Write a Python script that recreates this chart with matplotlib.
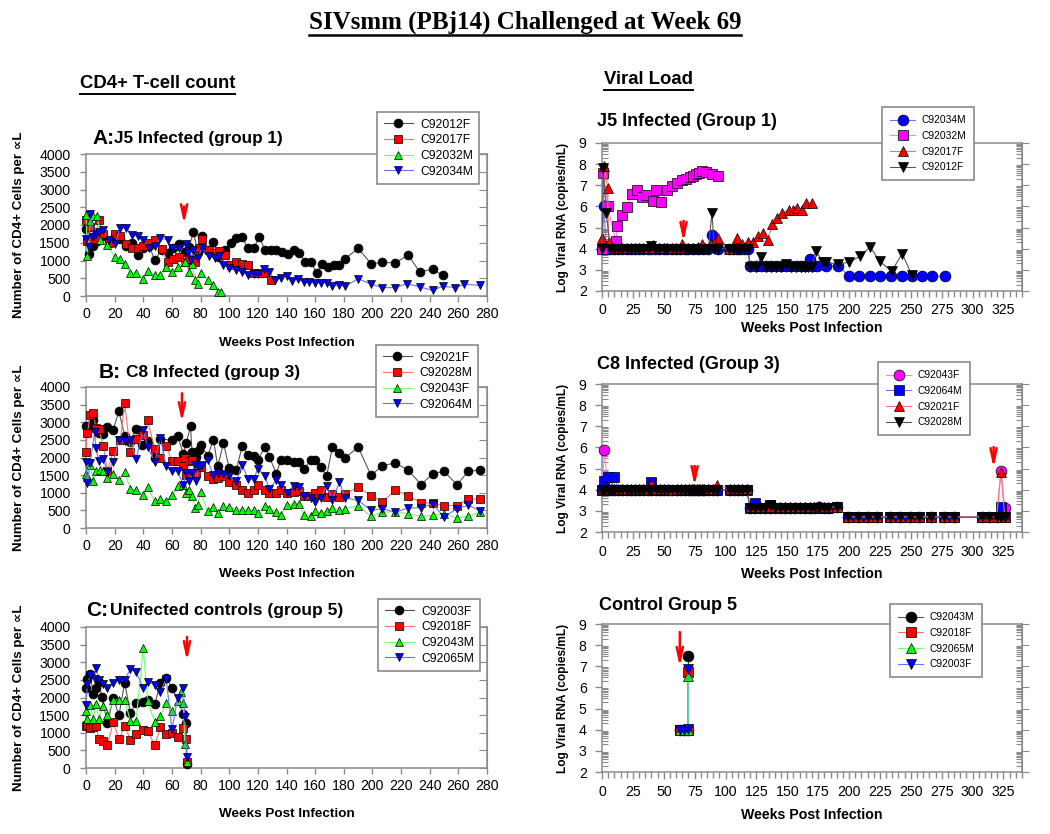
import matplotlib
matplotlib.use("Agg")
import matplotlib.pyplot as plt
from matplotlib.lines import Line2D

plt.rcParams["font.family"] = ["Liberation Sans", "DejaVu Sans"]

# ---------------- CD4+ T-cell counts (left column) ----------------
A_LABELS = ["C92012F", "C92017F", "C92032M", "C92034M"]
A_WK_12F = [0, 2, 5, 8, 12, 16, 20, 24, 28, 32, 36, 40, 44, 48, 53, 57, 61, 65, 69, 72,
            75, 78, 81, 85, 89, 93, 97, 101, 105, 109, 113, 117, 121, 125, 129, 133, 137, 141, 145, 149,
            153, 157, 161, 165, 169, 173, 177, 181, 190, 199, 207, 216, 225, 233, 242, 249]
A_C92012F = [1880, 1180, 1420, 1550, 1700, 1500, 1680, 1600, 1420, 1480, 1150, 1350, 1420, 1010, 1300, 1200, 1350, 1470, 1250, 1380,
             1800, 1250, 1680, 1300, 1510, 1090, 1290, 1480, 1620, 1670, 1340, 1340, 1670, 1290, 1290, 1290, 1245, 1180, 1290, 1225,
             960, 960, 650, 915, 820, 885, 870, 1055, 1340, 915, 945, 935, 1150, 680, 755, 585]
A_WK_17F = [0, 1, 3, 6, 9, 12, 16, 20, 24, 28, 32, 36, 40, 44, 48, 53, 57, 61, 65, 69,
            72, 76, 79, 81, 86, 90, 93, 97, 101, 105, 109, 113, 117, 121, 125, 129]
A_C92017F = [2150, 1550, 1940, 1600, 2150, 1750, 1500, 1745, 1700, 1460, 1350, 1350, 1395, 1490, 1580, 1320, 965, 1040, 1110, 965,
             1030, 965, 1350, 1610, 1300, 1200, 1270, 1160, 870, 960, 915, 870, 650, 660, 660, 445]
A_WK_32M = [0, 1, 3, 5, 8, 10, 15, 20, 24, 27, 31, 35, 40, 43, 48, 52, 56, 60, 64, 69,
            72, 74, 76, 78, 80, 85, 89, 92, 94]
A_C92032M = [2290, 1120, 2100, 2250, 2260, 1570, 1430, 1100, 1030, 915, 650, 660, 490, 700, 600, 585, 820, 680, 820, 960,
             680, 915, 460, 350, 660, 460, 320, 110, 110]
A_WK_34M = [0, 2, 3, 5, 7, 9, 12, 16, 20, 24, 28, 32, 36, 40, 44, 48, 52, 57, 60, 65,
            70, 71, 73, 75, 78, 81, 86, 90, 93, 96, 100, 105, 109, 113, 117, 120, 124, 128, 132, 136,
            140, 144, 148, 152, 156, 160, 164, 168, 172, 177, 181, 190, 199, 207, 216, 224, 233, 242, 249, 258,
            264, 275]
A_C92034M = [1600, 1390, 2320, 1660, 1750, 1810, 1850, 1580, 1470, 1915, 1915, 1725, 1680, 1580, 1360, 1410, 1630, 1580, 1350, 1350,
             1470, 1200, 1015, 1300, 1060, 1350, 1140, 1060, 1130, 870, 800, 726, 679, 585, 613, 613, 773, 679, 443, 509,
             556, 424, 490, 396, 396, 377, 377, 377, 273, 320, 273, 490, 330, 236, 236, 349, 255, 160, 273, 236,
             330, 300]

B_LABELS = ["C92021F", "C92028M", "C92043F", "C92064M"]
B_WK_21F = [0, 3, 5, 9, 12, 15, 19, 23, 27, 31, 35, 39, 43, 48, 52, 60, 64, 68, 70, 73,
            74, 77, 79, 80, 85, 89, 92, 96, 100, 105, 109, 113, 117, 120, 125, 128, 133, 136, 140, 145,
            149, 152, 157, 160, 164, 168, 172, 177, 181, 190, 199, 207, 216, 225, 234, 242, 250, 259, 267, 275]
B_C92021F = [2885, 2885, 3070, 2700, 2676, 2865, 2790, 3310, 2620, 2430, 2810, 2365, 2480, 1985, 2535, 2485, 2600, 2110, 2410, 2885,
             2155, 2015, 2205, 2365, 2050, 2505, 1750, 2410, 1700, 1655, 2315, 2080, 2035, 1940, 2300, 2015, 1540, 1940, 1940, 1860,
             1860, 1675, 1920, 1940, 1730, 1465, 2300, 2130, 1985, 2300, 1495, 1770, 1845, 1640, 1230, 1540, 1610, 1230, 1610, 1640]
B_WK_28M = [0, 1, 3, 5, 7, 9, 12, 15, 19, 24, 27, 31, 35, 40, 43, 48, 52, 56, 60, 64,
            68, 69, 70, 72, 74, 77, 80, 85, 89, 92, 96, 100, 105, 109, 113, 117, 120, 125, 128, 133,
            136, 140, 145, 149, 152, 157, 160, 164, 168, 172, 177, 181, 190, 199, 207, 216, 225, 234, 242, 250,
            259, 267, 275]
B_C92028M = [2155, 2695, 3215, 3260, 2830, 2810, 2335, 1610, 2175, 2500, 3545, 2150, 2530, 2650, 3050, 2240, 1985, 2330, 1890, 1890,
             1750, 1985, 1500, 1890, 1920, 1560, 1720, 1465, 1390, 1420, 1465, 1305, 1230, 1090, 990, 1070, 1230, 1070, 990, 990,
             1090, 990, 1020, 1040, 900, 900, 990, 1090, 880, 975, 880, 975, 1160, 915, 740, 1070, 915, 710, 710, 635,
             635, 830, 820]
B_WK_43F = [0, 1, 3, 5, 7, 10, 12, 15, 19, 23, 27, 31, 35, 40, 43, 48, 52, 56, 60, 64,
            68, 70, 72, 74, 76, 78, 80, 85, 89, 92, 96, 100, 105, 109, 113, 117, 120, 125, 128, 133,
            136, 140, 145, 149, 152, 157, 160, 164, 168, 172, 177, 181, 190, 199, 207, 216, 225, 234, 242, 250,
            259, 267, 275]
B_C92043F = [1540, 1450, 1790, 1320, 1610, 1640, 1610, 1420, 1540, 1370, 1580, 1105, 1070, 945, 1150, 755, 830, 755, 925, 1180,
             1230, 990, 1090, 915, 570, 660, 1010, 470, 600, 425, 615, 600, 520, 520, 520, 500, 425, 635, 550, 445,
             380, 645, 690, 690, 380, 350, 490, 425, 490, 570, 520, 550, 635, 330, 455, 455, 405, 330, 360, 400,
             285, 330, 455]
B_WK_64M = [0, 1, 3, 6, 7, 9, 12, 15, 19, 23, 27, 31, 35, 40, 43, 48, 52, 56, 60, 64,
            68, 70, 72, 74, 76, 77, 79, 81, 85, 89, 92, 96, 100, 105, 109, 113, 117, 120, 125, 128,
            133, 136, 140, 145, 149, 152, 157, 160, 164, 168, 172, 177, 181, 190, 199, 207, 216, 225, 234, 242,
            250, 259, 267, 275]
B_C92064M = [1865, 1275, 1845, 2715, 2270, 1890, 1960, 1580, 1865, 2505, 2460, 2505, 1960, 2790, 2300, 1865, 2555, 1750, 1610, 1610,
             1230, 1560, 1320, 1560, 1800, 1320, 1730, 1800, 1920, 1495, 1560, 1540, 1465, 1320, 1800, 1390, 1390, 1675, 1485, 1105,
             1370, 1230, 990, 1200, 1160, 900, 850, 730, 850, 1200, 805, 1295, 850, 785, 500, 550, 445, 570, 570, 690,
             310, 550, 645, 490]

C_LABELS = ["C92003F", "C92018F", "C92043M", "C92065M"]
C_WK_03F = [0, 1, 3, 5, 7, 9, 11, 15, 19, 23, 27, 31, 35, 40, 43, 48, 52, 56, 60, 68, 70, 70.5]
C_C92003F = [2270, 2535, 2655, 2090, 2280, 2450, 2015, 1275, 1985, 1495, 2420, 1560, 1855, 1870, 1940, 1805, 2420, 2560, 2280, 1540, 1275, 105]
C_WK_18F = [0, 1, 3, 5, 7, 9, 12, 15, 19, 23, 27, 31, 35, 40, 43, 48, 52, 56, 60, 64, 68, 70, 70.5]
C_C92018F = [1190, 1230, 1135, 1165, 1190, 830, 775, 645, 1305, 815, 1190, 805, 955, 1090, 1050, 645, 1165, 975, 1000, 880, 1135, 815, 170]
C_WK_43M = [0, 1, 3, 5, 7, 9, 12, 15, 19, 23, 27, 31, 35, 40, 43, 48, 52, 56, 60, 64, 66, 68, 69, 70.5]
C_C92043M = [1610, 1400, 1795, 1400, 1825, 1380, 1760, 1515, 1920, 1940, 1920, 1335, 1335, 3415, 1890, 1305, 1475, 1845, 1615, 1890, 2150, 1845, 670, 170]
C_WK_65M = [0, 1, 3, 6, 7, 9, 12, 15, 19, 23, 27, 31, 35, 40, 43, 48, 52, 56, 60, 64, 68, 69, 70.5]
C_C92065M = [1795, 2375, 2630, 2535, 2845, 2505, 2390, 2270, 2410, 2485, 2505, 2800, 2725, 2270, 2440, 2365, 2155, 2535, 1095, 1985, 2270, 1445, 310]

# ---------------- Viral load (right column) ----------------
J5_LABELS = ["C92034M", "C92032M", "C92017F", "C92012F"]
J5_WK_34M = [0, 1.5, 3.5, 6.8, 9.8, 13, 16, 20, 23.4, 26.6, 30, 33.4, 37, 40, 43, 46, 50, 53, 57, 60,
             63, 67, 70, 73.5, 77.7, 81.8, 86, 89, 94, 103, 106, 109, 112, 115, 118, 120, 124.5, 128.5, 132.6, 136.7,
             140.8, 144.8, 149, 153, 157, 161, 164, 168.5, 170, 174, 181, 191, 200, 208, 217, 225, 234, 243, 251, 259,
             267, 278]
J5_C92034M = [4.0, 6.0, 4.0, 4.0, 4.0, 4.0, 4.0, 4.0, 4.0, 4.0, 4.0, 4.0, 4.0, 4.0, 4.0, 4.0, 4.0, 4.0, 4.0, 4.0,
              4.0, 4.0, 4.0, 4.0, 4.0, 4.0, 4.0, 4.64, 4.0, 4.0, 4.0, 4.0, 4.0, 4.0, 4.0, 3.2, 3.2, 3.2, 3.2, 3.2,
              3.2, 3.2, 3.2, 3.2, 3.2, 3.2, 3.2, 3.53, 3.2, 3.2, 3.2, 3.2, 2.7, 2.7, 2.7, 2.7, 2.7, 2.7, 2.7, 2.7,
              2.7, 2.7]
J5_WK_32M = [0, 1, 4.5, 11, 12.5, 16, 20, 24, 28.5, 32, 36, 41, 44, 48, 53, 57, 61, 64.5, 68, 71,
             73.5, 76, 78.5, 81, 84.5, 89, 94]
J5_C92032M = [4.0, 7.6, 6.03, 4.38, 5.08, 5.58, 5.97, 6.58, 6.77, 6.45, 6.52, 6.25, 6.8, 6.22, 6.8, 6.96, 7.11, 7.24, 7.3, 7.38,
              7.45, 7.52, 7.6, 7.66, 7.62, 7.52, 7.45]
J5_WK_17F = [0, 2, 4.5, 5.4, 9.8, 13, 16, 20, 23.4, 26.6, 30, 33.4, 37, 41, 43, 46, 50, 53, 57, 60,
             63, 65, 70, 73.5, 77.7, 81, 83.7, 88, 91, 94, 103, 109, 113, 118, 122, 126, 130, 134, 138, 142,
             146, 151, 155, 158, 162, 165, 170]
J5_C92017F = [4.52, 7.9, 6.88, 4.3, 4.05, 4.05, 4.05, 4.05, 4.05, 4.05, 4.05, 4.05, 4.05, 4.16, 4.05, 4.05, 4.05, 4.05, 4.05, 4.05,
              4.05, 4.2, 4.05, 4.05, 4.1, 4.24, 4.05, 4.2, 4.25, 4.5, 4.0, 4.5, 4.24, 4.3, 4.3, 4.58, 4.75, 4.42, 5.15, 5.45,
              5.7, 5.82, 5.84, 5.93, 5.85, 6.15, 6.17]
J5_WK_12F = [0, 1, 3.5, 6.8, 9.8, 13, 16, 20, 23.4, 26.6, 30, 33.4, 37, 40, 43, 46, 50, 53, 57, 60,
             63, 67, 70, 71.5, 73.5, 75.5, 77.7, 79.6, 81.8, 83.7, 86, 89, 91, 94, 103, 106, 109, 112, 115, 118,
             120, 124.5, 128.5, 132.6, 136.7, 140.8, 144.8, 149, 153, 157, 161, 164, 167, 170, 173, 179, 181, 191, 200, 209,
             217, 225, 234.5, 243, 251]
J5_C92012F = [4.0, 7.8, 5.67, 4.0, 4.0, 4.0, 4.0, 4.0, 4.0, 4.0, 4.0, 4.0, 4.0, 4.12, 4.0, 4.0, 4.0, 4.0, 4.0, 4.0,
              4.0, 4.0, 4.0, 4.0, 4.0, 4.0, 4.0, 4.0, 4.0, 4.0, 4.0, 5.67, 4.0, 4.0, 4.0, 4.0, 4.0, 4.0, 4.0, 4.0,
              3.15, 3.15, 3.6, 3.15, 3.15, 3.15, 3.15, 3.3, 3.15, 3.15, 3.15, 3.15, 3.15, 3.15, 3.9, 3.37, 3.37, 3.26, 3.37, 3.64,
              4.08, 3.4, 2.93, 3.77, 2.74]

C8_LABELS = ["C92043F", "C92064M", "C92021F", "C92028M"]
C8_WEEKS = [0, 2, 4.6, 7.3, 10, 13, 16.5, 20, 23.5, 26.7, 30, 33.5, 37, 40, 43.7, 47, 50.5, 53.7, 57, 60.5,
            64, 67, 70.7, 72.6, 74.8, 76.6, 78.8, 80.7, 82.8, 86, 89.6, 92.8, 103.6, 107, 110, 113, 117, 120, 124, 128,
            132, 136, 140, 144, 148, 152, 156, 160, 164, 168, 172, 176, 180, 183, 190, 199, 207, 215, 223, 233,
            241, 249, 257, 266, 277, 285, 308, 313, 319.5, 323, 326]
C8_C92043F = [4.0, 5.9, 4.0, 4.0, 4.0, 4.0, 4.0, 4.0, 4.0, 4.0, 4.0, 4.0, 4.0, 4.0, 4.0, 4.0, 4.0, 4.0, 4.0, 4.0,
              4.0, 4.0, 4.0, 4.0, 4.0, 4.0, 4.0, 4.0, 4.0, 4.0, 4.0, 4.0, 4.0, 4.0, 4.0, 4.0, 4.0, 3.15, 3.15, 3.15,
              3.15, 3.15, 3.15, 3.15, 3.15, 3.15, 3.15, 3.15, 3.15, 3.15, 3.15, 3.2, 3.15, 3.15, 3.2, 2.7, 2.7, 2.7, 2.7, 2.7,
              2.7, 2.7, 2.7, 2.7, 2.7, 2.7, 2.7, 2.7, 2.7, 4.9, 3.15]
C8_C92064M = [4.0, 4.4, 4.6, 4.0, 4.6, 4.0, 4.0, 4.0, 4.0, 4.0, 4.0, 4.0, 4.0, 4.35, 4.0, 4.0, 4.0, 4.0, 4.0, 4.0,
              4.0, 4.0, 4.0, 4.0, 4.0, 4.0, 4.0, 4.0, 4.0, 4.0, 4.0, 4.0, 4.0, 4.0, 4.0, 4.0, 4.0, 3.15, 3.35, 3.15,
              3.15, 3.3, 3.15, 3.15, 3.15, 3.15, 3.15, 3.15, 3.15, 3.15, 3.15, 3.15, 3.15, 3.15, 3.2, 2.7, 2.7, 2.7, 2.7, 2.7,
              2.7, 2.7, 2.7, 2.7, 2.7, 2.7, 2.7, 2.7, 2.7, 3.2, 2.7]
C8_C92021F = [4.0, 4.05, 4.05, 4.05, 4.05, 4.05, 4.05, 4.05, 4.05, 4.05, 4.05, 4.05, 4.05, 4.25, 4.05, 4.05, 4.05, 4.05, 3.98, 4.05,
              4.05, 4.05, 4.05, 4.05, 4.05, 4.05, 4.05, 4.05, 4.05, 4.05, 4.05, 4.2, 4.05, 4.05, 4.05, 4.05, 4.05, 3.18, 3.18, 3.18,
              3.18, 3.18, 3.18, 3.18, 3.18, 3.18, 3.18, 3.18, 3.18, 3.18, 3.18, 3.25, 3.18, 3.18, 3.2, 2.72, 2.72, 2.72, 2.72, 2.72,
              2.72, 2.72, 2.72, 2.72, 2.72, 2.72, 2.72, 2.72, 2.72, 4.85, 2.7]
C8_C92028M = [4.0, 4.0, 4.0, 4.0, 4.0, 4.0, 4.0, 4.0, 4.0, 4.0, 4.0, 4.0, 4.0, 4.0, 4.0, 4.0, 4.0, 4.0, 4.0, 4.0,
              4.0, 4.0, 4.0, 4.0, 4.0, 4.0, 4.0, 4.0, 4.0, 4.0, 4.0, 4.0, 4.0, 4.0, 4.0, 4.0, 4.0, 3.15, 3.15, 3.15,
              3.15, 3.3, 3.15, 3.15, 3.15, 3.15, 3.15, 3.15, 3.15, 3.15, 3.15, 3.15, 3.15, 3.15, 3.2, 2.7, 2.7, 2.7, 2.7, 2.7,
              2.7, 2.7, 2.7, 2.7, 2.7, 2.7, 2.7, 2.7, 2.7, 2.7, 2.7]

CTRL_LABELS = ["C92043M", "C92018F", "C92065M", "C92003F"]
CTRL_WEEKS = [63, 66, 69.5, 69.5]
CTRL_C92043M = [4.0, 4.0, 4.0, 7.5]
CTRL_C92018F = [4.0, 4.0, 4.0, 6.75]
CTRL_C92065M = [4.0, 4.0, 4.0, 6.55]
CTRL_C92003F = [4.0, 4.0, 4.05, 6.85]

W, H = 1050, 834
SPINE = "#8a8a8a"
BOLD = dict(fontweight="bold")

# marker face / line colours
STY = {
    "black": ("black", "#555555"),
    "red": ("#ff0000", "#ff7070"),
    "green": ("#00ff00", "#70ff70"),
    "blue": ("#0000ff", "#7070ff"),
    "magenta": ("#ff00ff", "#ff80ff"),
}

fig = plt.figure(figsize=(W / 100, H / 100), dpi=100)


def add_axes_px(left, top, right, bottom):
    return fig.add_axes([left / W, 1 - bottom / H, (right - left) / W, (bottom - top) / H])


def series(ax, x, y, marker, colour, label, ms):
    face, line = STY[colour]
    return ax.plot(x, y, color=line, lw=0.8, marker=marker, ms=ms, mfc=face, mec="black",
                   mew=0.5, label=label, clip_on=False, zorder=3)[0]


def legend(ax, handles, left, top, size, spacing=0.3, pad=0.55):
    leg = ax.legend(handles=handles, loc="upper left", bbox_to_anchor=(left / W, 1 - top / H),
                    bbox_transform=fig.transFigure, borderaxespad=0, fontsize=size, frameon=True,
                    fancybox=False, framealpha=1, edgecolor=SPINE, handlelength=2.4,
                    labelspacing=spacing, borderpad=pad, handletextpad=0.6)
    leg.get_frame().set_linewidth(1.2)
    leg.set_zorder(10)


def arrow(ax, x, y_top, y_tip):
    ax.annotate("", xy=(x, y_tip), xytext=(x, y_top),
                arrowprops=dict(arrowstyle="->,head_length=1.0,head_width=0.22", color="red", lw=1.8),
                annotation_clip=False)


def style_cd4(ax, xlabel_offset):
    ax.set_xlim(0, 280)
    ax.set_ylim(0, 4000)
    ax.set_xticks(range(0, 281, 20))
    ax.set_yticks(range(0, 4001, 500))
    for sp in ax.spines.values():
        sp.set_color(SPINE)
        sp.set_linewidth(1.1)
    ax.tick_params(colors=SPINE, labelcolor="black", labelsize=10.2, direction="out", length=4, width=1)
    ax.tick_params(axis="y", pad=7)
    ax.tick_params(axis="x", pad=4)
    sec = ax.secondary_yaxis("right")
    sec.set_yticks(range(0, 4001, 500))
    sec.spines["right"].set_color(SPINE)
    sec.tick_params(direction="in", length=6, colors=SPINE, labelright=False)
    ax.set_xlabel("Weeks Post Infection", fontsize=9.7, **BOLD)
    ax.xaxis.set_label_coords(0.5, xlabel_offset)
    ax.set_ylabel("Number of CD4+ Cells per \u221dL", fontsize=9.6, **BOLD)
    ax.yaxis.set_label_coords(-0.152, 0.5)


def style_vl(ax, xlabel_offset):
    ax.set_xlim(0, 340)
    ax.set_ylim(2, 9)
    ax.set_xticks(range(0, 326, 25))
    ax.set_xticks(range(0, 341, 5), minor=True)
    ax.set_yticks(range(2, 10))
    minors = [n + m for n in range(2, 9) for m in (0.301, 0.477, 0.602, 0.699, 0.778, 0.845, 0.903, 0.954)]
    ax.set_yticks(minors, minor=True)
    for sp in ax.spines.values():
        sp.set_color(SPINE)
        sp.set_linewidth(1.1)
    ax.tick_params(which="both", colors=SPINE, labelcolor="black", labelsize=10.2, width=1)
    ax.tick_params(axis="x", which="major", direction="out", length=5, pad=4)
    ax.tick_params(axis="x", which="minor", direction="out", length=4)
    ax.tick_params(axis="y", which="major", direction="out", length=5, pad=6)
    ax.tick_params(axis="y", which="minor", direction="in", length=4, width=0.8)
    sec = ax.secondary_yaxis("right")
    sec.set_yticks(range(2, 10))
    sec.set_yticks(minors, minor=True)
    sec.spines["right"].set_color(SPINE)
    sec.tick_params(which="major", direction="out", length=5, colors=SPINE, labelright=False)
    sec.tick_params(which="minor", direction="in", length=4, width=0.8, colors=SPINE)
    ax.set_xlabel("Weeks Post Infection", fontsize=10.2, **BOLD)
    ax.xaxis.set_label_coords(0.5, xlabel_offset)
    ax.set_ylabel("Log Viral RNA (copies/mL)", fontsize=8.6, **BOLD)
    ax.yaxis.set_label_coords(-0.079, 0.5)


# ---------- left column ----------
ax_a = add_axes_px(86, 154, 487, 296)
style_cd4(ax_a, -0.29)
h = [series(ax_a, A_WK_12F, A_C92012F, "o", "black", A_LABELS[0], 6.4),
     series(ax_a, A_WK_17F, A_C92017F, "s", "red", A_LABELS[1], 6.0),
     series(ax_a, A_WK_32M, A_C92032M, "^", "green", A_LABELS[2], 6.4),
     series(ax_a, A_WK_34M, A_C92034M, "v", "blue", A_LABELS[3], 6.4)]
legend(ax_a, h, 377, 112, 8.7)
arrow(ax_a, 68.5, 2600, 1950)

ax_b = add_axes_px(86, 387, 487, 528)
style_cd4(ax_b, -0.285)
h = [series(ax_b, B_WK_21F, B_C92021F, "o", "black", B_LABELS[0], 6.4),
     series(ax_b, B_WK_28M, B_C92028M, "s", "red", B_LABELS[1], 6.0),
     series(ax_b, B_WK_43F, B_C92043F, "^", "green", B_LABELS[2], 6.4),
     series(ax_b, B_WK_64M, B_C92064M, "v", "blue", B_LABELS[3], 6.4)]
legend(ax_b, h, 376, 345, 8.7)
arrow(ax_b, 67, 3900, 2930)

ax_c = add_axes_px(86, 627, 487, 768)
style_cd4(ax_c, -0.285)
h = [series(ax_c, C_WK_03F, C_C92003F, "o", "black", C_LABELS[0], 6.4),
     series(ax_c, C_WK_18F, C_C92018F, "s", "red", C_LABELS[1], 6.0),
     series(ax_c, C_WK_43M, C_C92043M, "^", "green", C_LABELS[2], 6.4),
     series(ax_c, C_WK_65M, C_C92065M, "v", "blue", C_LABELS[3], 6.4)]
legend(ax_c, h, 378, 599, 8.7)
arrow(ax_c, 70.5, 3800, 2960)

# ---------- right column ----------
ax_d = add_axes_px(602, 143, 1022, 291)
style_vl(ax_d, -0.2)
h = [series(ax_d, J5_WK_34M, J5_C92034M, "o", "blue", J5_LABELS[0], 7.8),
     series(ax_d, J5_WK_32M, J5_C92032M, "s", "magenta", J5_LABELS[1], 7.5),
     series(ax_d, J5_WK_17F, J5_C92017F, "^", "red", J5_LABELS[2], 7.8),
     series(ax_d, J5_WK_12F, J5_C92012F, "v", "black", J5_LABELS[3], 7.8)]
legend(ax_d, h, 882, 107, 7.4, spacing=0.55, pad=0.8)
arrow(ax_d, 66, 5.45, 4.2)

ax_e = add_axes_px(602, 384, 1022, 532)
style_vl(ax_e, -0.235)
h = [series(ax_e, C8_WEEKS, C8_C92043F, "o", "magenta", C8_LABELS[0], 7.8),
     series(ax_e, C8_WEEKS, C8_C92064M, "s", "blue", C8_LABELS[1], 7.5),
     series(ax_e, C8_WEEKS, C8_C92021F, "^", "red", C8_LABELS[2], 7.8),
     series(ax_e, C8_WEEKS, C8_C92028M, "v", "black", C8_LABELS[3], 7.8)]
legend(ax_e, h, 878, 362, 7.4, spacing=0.55, pad=0.8)
arrow(ax_e, 75, 5.25, 4.05)
arrow(ax_e, 317, 6.15, 4.9)

ax_f = add_axes_px(602, 624, 1022, 772)
style_vl(ax_f, -0.24)
h = [series(ax_f, CTRL_WEEKS, CTRL_C92043M, "o", "black", CTRL_LABELS[0], 7.8),
     series(ax_f, CTRL_WEEKS, CTRL_C92018F, "s", "red", CTRL_LABELS[1], 7.5),
     series(ax_f, CTRL_WEEKS, CTRL_C92065M, "^", "green", CTRL_LABELS[2], 7.8),
     series(ax_f, CTRL_WEEKS, CTRL_C92003F, "v", "blue", CTRL_LABELS[3], 7.8)]
legend(ax_f, h, 890, 604, 7.4, spacing=0.55, pad=0.8)
arrow(ax_f, 63, 8.75, 6.85)


# ---------- panel titles ----------
def ftext(x, y, s, size, **kw):
    return fig.text(x / W, 1 - y / H, s, fontsize=size, va="center", ha="left", **BOLD, **kw)


ftext(92, 139, "A:", 15)
ftext(114, 139, "J5 Infected (group 1)", 12.3)
ftext(99, 372, "B:", 15)
ftext(126, 372, "C8 Infected (group 3)", 12.5)
ftext(86, 610, "C:", 15)
ftext(110, 610, "Unifected controls (group 5)", 12.5)
ftext(597, 122, "J5 Infected (Group 1)", 13)
ftext(597, 365, "C8 Infected (Group 3)", 13)
ftext(599, 605, "Control Group 5", 13)

title = fig.text(0.5, 1 - 22 / H, "SIVsmm (PBj14) Challenged at Week 69", fontsize=18,
                 ha="center", va="center", family="Liberation Serif", **BOLD)
sub_l = ftext(80, 84, "CD4+ T-cell count", 13.3)
sub_r = ftext(604, 80, "Viral Load", 13.3)

fig.canvas.draw()
inv = fig.transFigure.inverted()
for txt, lw in ((title, 1.8), (sub_l, 1.4), (sub_r, 1.4)):
    bb = txt.get_window_extent()
    (x0, y0), (x1, _) = inv.transform([(bb.x0, bb.y0), (bb.x1, bb.y1)])
    fig.add_artist(Line2D([x0, x1], [y0 - 0.002, y0 - 0.002], transform=fig.transFigure,
                          color="black", lw=lw))

fig.savefig("out.png", dpi=100)
